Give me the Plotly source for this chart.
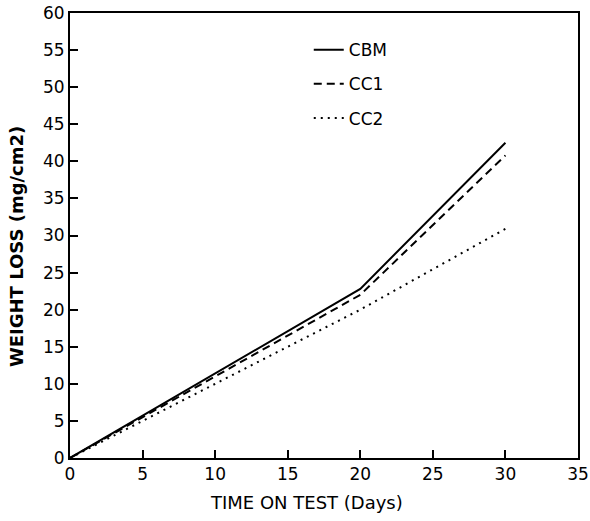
import plotly.graph_objects as go

days = [0, 20, 30]
cbm = [0, 22.8, 42.5]
cc1 = [0, 22.0, 40.8]
cc2 = [0, 20.0, 30.9]
series_names = ["CBM", "CC1", "CC2"]
x_ticks = [0, 5, 10, 15, 20, 25, 30, 35]
y_ticks = [0, 5, 10, 15, 20, 25, 30, 35, 40, 45, 50, 55, 60]
x_title = "TIME ON TEST (Days)"
y_title = "WEIGHT LOSS (mg/cm2)"

FONT = "DejaVu Sans, Arial, sans-serif"

fig = go.Figure()
styles = ["solid", "8px,5px", "2px,5px"]
for name, ys, dash, g in zip(series_names, [cbm, cc1, cc2], styles, ["a", "b", "c"]):
    fig.add_trace(go.Scatter(x=days, y=ys, mode="lines", name=name, legendgroup=g,
                             line=dict(color="black", width=2, dash=dash)))

axis_common = dict(showgrid=False, zeroline=False, showline=True, linecolor="black",
                   linewidth=2, mirror=True, ticks="inside", ticklen=8, tickwidth=2,
                   tickcolor="black", automargin=False,
                   tickfont=dict(family=FONT, size=17, color="black"))

fig.update_layout(
    width=590, height=521,
    margin=dict(l=70, r=12, t=13, b=63),
    plot_bgcolor="white", paper_bgcolor="white",
    font=dict(family=FONT, color="black"),
    xaxis=dict(range=[0, 35], tickvals=x_ticks, **axis_common),
    yaxis=dict(range=[0, 60], tickvals=y_ticks, **axis_common),
    legend=dict(x=0.47, y=0.957, xanchor="left", yanchor="top", bgcolor="rgba(0,0,0,0)",
                font=dict(family=FONT, size=17, color="black"), tracegroupgap=9,
                itemwidth=30),
    annotations=[
        dict(text=x_title, xref="paper", yref="paper", x=0.466, y=0, xanchor="center",
             yanchor="middle", yshift=-44, showarrow=False,
             font=dict(family=FONT, size=18, color="black")),
        dict(text="<b>" + y_title + "</b>", xref="paper", yref="paper", x=0, y=0.474,
             xanchor="center", yanchor="middle", xshift=-54, textangle=-90, showarrow=False,
             font=dict(family=FONT, size=18, color="black")),
    ],
)

fig.write_html("out.html", config={"displayModeBar": False},
               post_script="document.body.style.margin='0';")
